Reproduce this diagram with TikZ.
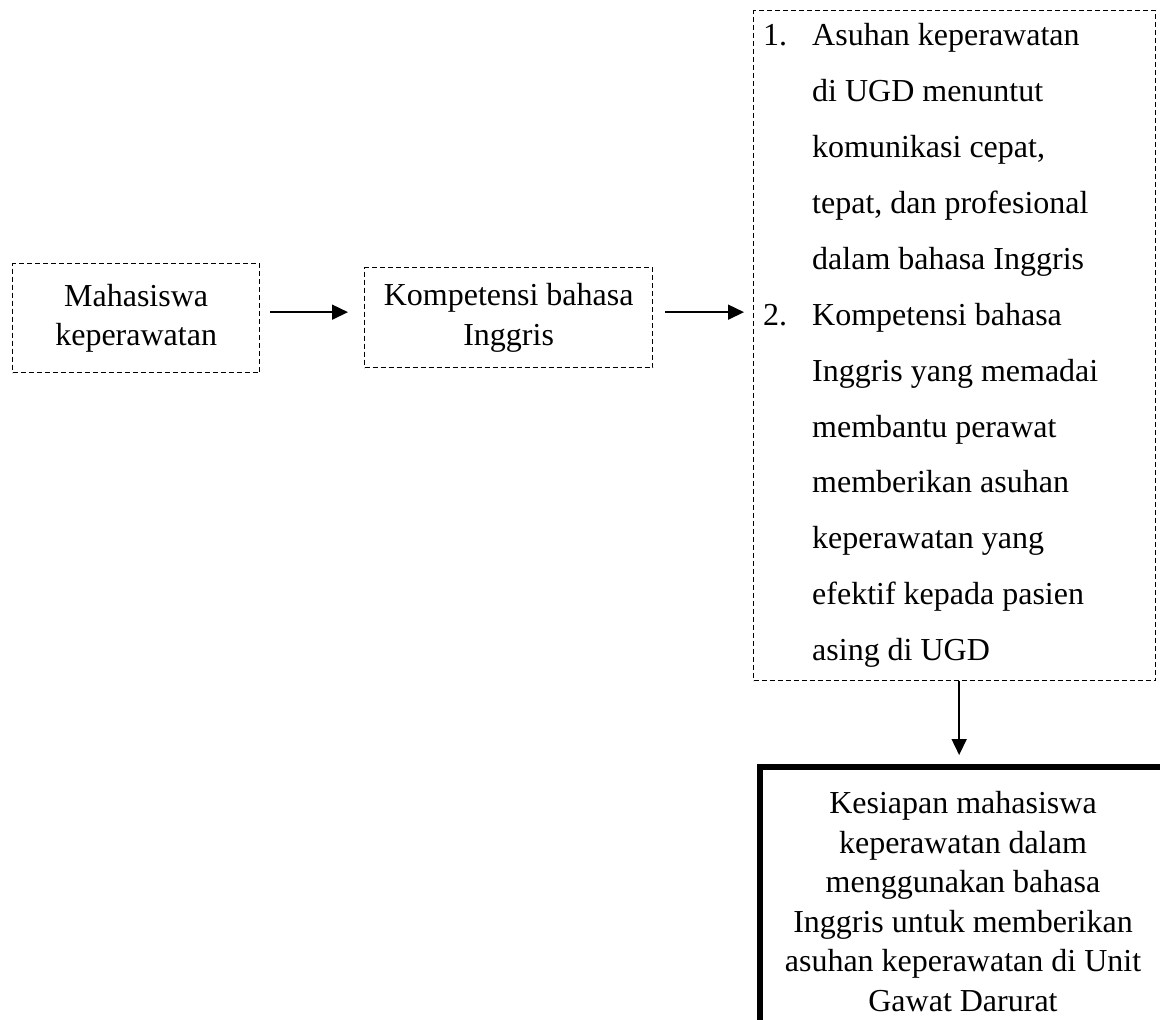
\documentclass[tikz,border=0pt]{standalone}
\usepackage{fontspec}
\setmainfont{Liberation Serif}
\usetikzlibrary{arrows.meta}
\tikzset{
  dashbox/.style={draw, line width=1.3pt, dash pattern=on 5pt off 3pt, anchor=north west, align=center, inner sep=0pt},
  thickbox/.style={draw, line width=6pt, anchor=north west, align=center, inner sep=0pt},
  arr/.style={line width=1.6pt, -{Triangle[length=16pt,width=15pt]}},
}
\begin{document}
\begin{tikzpicture}[x=1pt,y=-1pt,font=\fontsize{32pt}{39.5pt}\selectfont]
\useasboundingbox (0,0) rectangle (1160,1020);
\clip (0,0) rectangle (1160,1020);
\node[dashbox, minimum width=247pt, minimum height=109pt] (b1) at (12,263) {\raisebox{-3pt}{Mahasiswa}\\\raisebox{-3pt}{keperawatan}};
\node[dashbox, minimum width=288pt, minimum height=100pt] (b2) at (364,267) {Kompetensi bahasa\\Inggris};
\node[dashbox, minimum width=402pt, minimum height=670pt] (b3) at (753,10) {};
\node[anchor=base west, inner sep=0pt] (list) at (763,45) {\begin{minipage}[t]{390pt}\fontsize{32pt}{56pt}\selectfont\setlength{\parindent}{0pt}%
\makebox[49pt][l]{1.}Asuhan keperawatan\\
\hspace*{49pt}di UGD menuntut\\
\hspace*{49pt}komunikasi cepat,\\
\hspace*{49pt}tepat, dan profesional\\
\hspace*{49pt}dalam bahasa Inggris\\
\makebox[49pt][l]{2.}Kompetensi bahasa\\
\hspace*{49pt}Inggris yang memadai\\
\hspace*{49pt}membantu perawat\\
\hspace*{49pt}memberikan asuhan\\
\hspace*{49pt}keperawatan yang\\
\hspace*{49pt}efektif kepada pasien\\
\hspace*{49pt}asing di UGD
\end{minipage}};
\node[thickbox, minimum width=406pt, minimum height=269pt] (b4) at (757,764) {Kesiapan mahasiswa\\keperawatan dalam\\menggunakan bahasa\\Inggris untuk memberikan\\asuhan keperawatan di Unit\\Gawat Darurat};
\coordinate (a1s) at ([yshift=6pt]b1.east);
\coordinate (a2s) at ([yshift=5.5pt]b2.east);
\coordinate (a3s) at ([xshift=4.5pt]b3.south);
\draw[arr, shorten <=10pt, shorten >=16pt] (a1s) -- (a1s -| b2.west);
\draw[arr, shorten <=12pt, shorten >=9pt] (a2s) -- (a2s -| b3.west);
\draw[arr, shorten >=9pt] (a3s) -- (a3s |- b4.north);
\end{tikzpicture}
\end{document}
